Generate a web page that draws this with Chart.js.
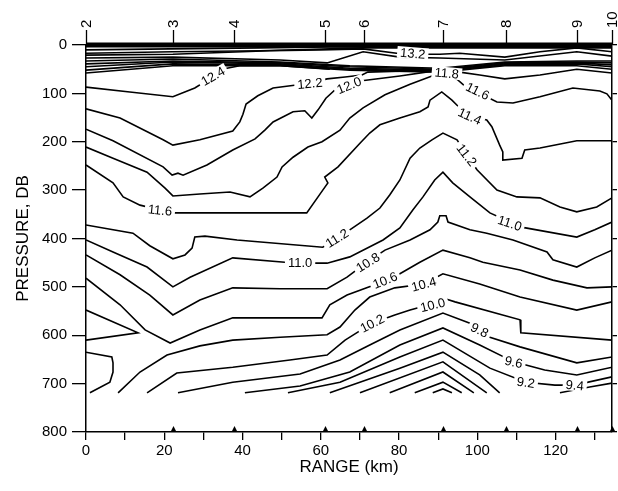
<!DOCTYPE html>
<html>
<head>
<meta charset="utf-8">
<script src="https://cdn.jsdelivr.net/npm/chart.js@4.4.1/dist/chart.umd.min.js"></script>
<style>
  html, body { margin: 0; padding: 0; background: #fff; }
  #wrap { width: 618px; height: 491px; }
</style>
</head>
<body>
<div id="wrap"><canvas id="section" width="618" height="491"></canvas></div>
<script>
// Stations along the section (top axis)
const stationNames = ['2', '3', '4', '5', '6', '7', '8', '9', '10'];
const stationRange = [0, 22.3, 37.9, 61.0, 71.0, 91.3, 107.4, 125.5, 134.4];

// Axis ticks
const rangeTicks = [0, 10, 20, 30, 40, 50, 60, 70, 80, 90, 100, 110, 120, 130];
const pressureTicks = [0, 100, 200, 300, 400, 500, 600, 700, 800];

// Isotherms as [range km, pressure dB] vertices
// near-surface layer
const surf1 = [[0, 10], [21.5, 8], [44.4, 6], [62.3, 4], [134.4, 4]];
const surf2 = [[0, 17], [22.2, 14], [44.4, 12], [62.3, 8], [70.8, 6], [134.4, 6]];
const t132 = [[0, 21], [22.2, 19], [47, 12], [59.8, 10], [70.8, 8], [81.3, 19], [90.4, 19], [95.5, 17], [107, 25], [116, 14], [125.4, 6], [134.4, 14]];
const surf4 = [[0, 27], [22.2, 25], [49.6, 31], [61.6, 37], [70.8, 14], [80.2, 25], [90.4, 27], [107, 31], [125.4, 14], [134.4, 23]];
const surf5 = [[0, 33], [22.2, 29], [49.6, 35], [67.4, 43], [90.4, 48], [107, 35], [125.4, 33], [134.4, 33]];
const surf6 = [[0, 39], [22.2, 33], [49.6, 37], [67.4, 45], [90.4, 50], [107, 37], [125.4, 35], [134.4, 37]];
const surf7 = [[0, 45], [22.2, 35], [49.6, 39], [67.4, 48], [90.4, 52], [107, 39], [125.4, 37], [134.4, 41]];
const surf8 = [[0, 52], [22.2, 39], [49.6, 41], [67.4, 50], [90.4, 54], [107, 41], [125.4, 39], [134.4, 45]];
const surf9 = [[0, 58], [22.2, 43], [49.6, 43], [67.4, 52], [90.4, 56], [107, 43], [125.4, 43], [134.4, 50]];

// thermocline and below
const t124 = [[0, 87], [11.2, 97], [22.2, 107], [27.8, 89], [32.4, 66], [36, 48], [39.3, 43], [49.6, 43], [62.3, 50]];
const t122 = [[0, 132], [8.7, 151], [19.7, 196], [22.2, 207], [29.1, 196], [37.5, 178], [39.3, 159], [40.1, 143], [40.9, 122], [43.9, 105], [47.8, 89], [57.2, 79], [61.6, 70], [66.2, 66], [70.5, 62], [72, 56], [80.2, 54], [90.4, 52]];
const t120 = [[0, 174], [6.9, 198], [19.7, 252], [22, 269], [23.5, 265], [24.8, 269], [30.9, 248], [37.5, 217], [43.2, 194], [45.7, 176], [47.8, 159], [52.9, 138], [55.9, 136], [57.7, 151], [59.3, 134], [61.3, 110], [63.6, 93], [67.2, 83], [70.5, 74], [80.2, 64], [88.6, 54], [95.5, 56], [100.6, 62], [107, 70], [116, 62], [125.4, 50], [134.4, 58]];
const t118 = [[0, 211], [6.9, 234], [15.6, 263], [20.2, 296], [22.2, 312], [29.1, 308], [36.8, 304], [41.9, 314], [45.2, 296], [48.8, 273], [50.1, 252], [52.9, 232], [56.7, 211], [60.3, 200], [64.9, 176], [67.4, 151], [70.8, 130], [76.4, 103], [82.8, 81], [88.4, 64], [92.2, 60], [95, 72], [96.8, 85], [99.9, 97], [105, 118], [109.1, 120], [116, 107], [124.4, 89], [131.3, 95], [133.1, 101], [134.4, 114]];
const t116 = [[0, 248], [6.9, 285], [9.5, 314], [13.8, 331], [18.9, 341], [22.2, 347], [56.4, 347], [60.5, 300], [61.8, 285], [61, 273], [64.4, 252], [70, 203], [72.5, 182], [75.1, 165], [80.2, 151], [85.3, 138], [87.4, 128], [87.9, 114], [90.9, 97], [93.5, 114], [95, 126], [98.1, 147], [102.4, 155], [103.7, 169], [105.7, 207], [106.5, 221], [106.5, 238], [111.4, 234], [112.1, 217], [116, 213], [125.4, 198], [134.4, 198]];
const t112 = [[0, 372], [12, 389], [16.3, 415], [22.2, 442], [25.3, 434], [27.1, 420], [27.8, 397], [30.4, 395], [38.6, 403], [60.5, 418], [64.1, 399], [67.4, 382], [71.8, 358], [75.1, 337], [77.6, 310], [80.2, 279], [82.8, 234], [85.3, 213], [88.4, 196], [91.2, 182], [94.8, 196], [97.3, 227], [99.9, 258], [105, 300], [110.1, 314], [116, 316], [121.1, 335], [125.4, 345], [130.5, 335], [134.4, 316]];
const t110 = [[0, 403], [6.9, 428], [15.6, 459], [22.2, 500], [26.6, 480], [37.5, 440], [50.8, 449], [54.7, 451], [61.6, 451], [67.4, 438], [75.9, 403], [80.2, 378], [83.5, 341], [86.1, 314], [89.1, 279], [91.2, 263], [93.7, 285], [98.1, 314], [103.2, 347], [108.3, 366], [110.9, 376], [125.4, 397], [130, 382], [134.4, 366]];
const t108 = [[0, 434], [8.7, 475], [16.3, 517], [22.2, 558], [29.1, 527], [37.5, 502], [49.6, 504], [61.6, 504], [66.7, 480], [71.8, 449], [76.4, 424], [82.8, 403], [87.9, 382], [89.9, 366], [90.4, 353], [92, 353], [92.5, 366], [98.1, 382], [102.4, 389], [109.1, 403], [117.8, 428], [119.3, 444], [125.4, 459], [130, 440], [134.4, 424]];
const t106 = [[0, 482], [8.7, 537], [15.1, 589], [21.5, 616], [29.1, 589], [37.5, 564], [60.3, 564], [62.3, 537], [66.7, 517], [76.4, 488], [80.2, 473], [85.3, 449], [91.2, 424], [98.1, 440], [101.4, 449], [110.9, 465], [119.3, 486], [128, 502], [134.4, 500]];
const t104 = [[8.2, 719], [13.8, 676], [20.7, 641], [29.1, 622], [37.5, 610], [49.6, 604], [61.6, 599], [64.9, 583], [68.7, 548], [72.5, 521], [78.9, 502], [86.3, 494], [91.2, 473], [100.6, 494], [110.9, 521], [125.4, 548], [134.4, 531]];
const t102 = [[15.6, 719], [23.2, 678], [37.5, 666], [52.1, 651], [61.6, 641], [66.2, 610], [73.1, 575], [78.9, 558], [82.8, 548], [88.6, 535], [91.2, 523], [94.3, 531], [110.9, 568], [111.1, 595], [134.4, 610]];
const t098 = [[23.5, 719], [37.5, 697], [54.7, 680], [64.9, 651], [72.5, 620], [80.2, 589], [91.2, 554], [98.1, 575], [100.6, 589], [103.2, 604], [110.9, 624], [125.4, 657], [134.4, 645]];
const t096 = [[40.6, 719], [54.7, 705], [67.4, 676], [80.2, 620], [91.2, 585], [100.6, 620], [109.3, 655], [117.2, 672], [125.4, 682], [134.4, 666]];
const t094 = [[51.6, 719], [64.9, 697], [80.2, 645], [91.2, 610], [103.2, 668], [112.4, 697], [119.8, 703], [124.9, 703], [134.4, 686]];
const t092 = [[62.3, 719], [80.2, 668], [91.2, 635], [100.6, 682], [105.7, 719]];
const t090 = [[70, 719], [91.2, 655], [102.4, 719]];
const t088 = [[77.6, 719], [91.2, 676], [99.1, 719]];
const t086 = [[84, 719], [91.2, 697], [96, 719]];
const t084 = [[88.6, 719], [91.2, 711], [93.5, 719]];
const t092east = [[121.1, 719], [128.7, 707], [134.4, 699]];
const tongueWest = [[0, 548], [13.3, 595], [0, 610]];
const poolWest = [[0, 635], [6.6, 645], [6.9, 657], [6.9, 676], [6.1, 697], [1, 719]];

// Contour labels (°C) and where they sit on the section
const labelLevel = [13.2, 12.4, 12.2, 12.0, 11.8, 11.6, 11.4, 11.2, 11.0, 11.6, 11.2, 11.0, 10.8, 10.6, 10.4, 10.2, 10.0, 9.8, 9.6, 9.2, 9.4];
const labelRange = [83.5, 32.4, 57.2, 67.2, 92.2, 100.1, 98.1, 97.3, 108.3, 18.9, 64.1, 54.7, 72, 76.4, 86.3, 73.1, 88.6, 100.6, 109.3, 112.4, 124.9];
const labelPressure = [17, 64, 79, 83, 58, 95, 147, 227, 368, 341, 399, 450, 449, 486, 494, 575, 537, 589, 655, 697, 703];
const labelAngle = [5, -30, -5, -22, 5, 26, 24, 52, 18, 6, -32, 0, -32, -22, -15, -27, -14, 27, 12, 8, 6];

const FONT = '"Liberation Sans", Arial, Helvetica, sans-serif';

const lines = [surf1, surf2, t132, surf4, surf5, surf6, surf7, surf8, surf9,
  t124, t122, t120, t118, t116, t112, t110, t108, t106, t104, t102,
  t098, t096, t094, t092, t090, t088, t086, t084, t092east, tongueWest, poolWest];

const datasets = lines.map(pts => ({
  data: pts.map(([r, p]) => ({ x: r, y: p })),
  showLine: true,
  borderColor: '#000',
  borderWidth: 1.6,
  pointRadius: 0,
  tension: 0,
  xAxisID: 'x',
  yAxisID: 'y'
}));

// sea surface
datasets.unshift({
  data: [{ x: 0, y: 0 }, { x: 134.4, y: 0 }],
  showLine: true,
  borderColor: '#000',
  borderWidth: 5,
  pointRadius: 0,
  clip: false,
  xAxisID: 'x',
  yAxisID: 'y'
});

const contourLabels = {
  id: 'contourLabels',
  afterDatasetsDraw(chart) {
    const { ctx, scales: { x, y } } = chart;
    ctx.save();
    ctx.font = '13px ' + FONT;
    ctx.textAlign = 'center';
    ctx.textBaseline = 'middle';
    labelLevel.forEach((lv, i) => {
      const px = x.getPixelForValue(labelRange[i]);
      const py = y.getPixelForValue(labelPressure[i]);
      const txt = lv.toFixed(1);
      const w = ctx.measureText(txt).width;
      ctx.save();
      ctx.translate(px, py);
      ctx.rotate(labelAngle[i] * Math.PI / 180);
      ctx.fillStyle = '#fff';
      ctx.fillRect(-w / 2 - 3, -6, w + 6, 12);
      ctx.fillStyle = '#000';
      ctx.fillText(txt, 0, 1);
      ctx.restore();
    });
    ctx.restore();
  }
};

// Station ticks and numbers above the section, small markers on the range axis
const stationAxis = {
  id: 'stationAxis',
  afterDraw(chart) {
    const { ctx, chartArea, scales: { x } } = chart;
    ctx.save();
    ctx.strokeStyle = '#000';
    ctx.fillStyle = '#000';
    ctx.lineWidth = 1.3;
    ctx.font = '15px ' + FONT;
    ctx.textAlign = 'left';
    ctx.textBaseline = 'middle';
    stationRange.forEach((r, i) => {
      const px = Math.round(x.getPixelForValue(r)) + 0.5;
      ctx.beginPath();
      ctx.moveTo(px, chartArea.top);
      ctx.lineTo(px, chartArea.top - 15);
      ctx.stroke();
      ctx.save();
      ctx.translate(px, chartArea.top - 17);
      ctx.rotate(-Math.PI / 2);
      ctx.fillText(stationNames[i], 0, 0.5);
      ctx.restore();
      if (i > 0) {
        ctx.beginPath();
        ctx.moveTo(px - 3, chartArea.bottom);
        ctx.lineTo(px, chartArea.bottom - 6);
        ctx.lineTo(px + 3, chartArea.bottom);
        ctx.closePath();
        ctx.fill();
      }
    });
    ctx.restore();
  }
};

const axisCommon = {
  grid: { drawOnChartArea: false, color: '#000', lineWidth: 1.3 },
  border: { display: true, color: '#000', width: 1.5 }
};

new Chart(document.getElementById('section'), {
  type: 'scatter',
  data: { datasets },
  plugins: [contourLabels, stationAxis],
  options: {
    responsive: false,
    animation: false,
    devicePixelRatio: 1,
    layout: { padding: 0 },
    plugins: { legend: { display: false }, tooltip: { enabled: false } },
    scales: {
      x: {
        type: 'linear', position: 'bottom', min: 0, max: 134.4,
        afterBuildTicks: s => { s.ticks = rangeTicks.map(v => ({ value: v })); },
        afterFit: s => { s.height = 59; },
        ticks: {
          color: '#000', font: { family: FONT, size: 15 }, padding: 2,
          maxRotation: 0, autoSkip: false,
          callback: v => (v % 20 === 0 ? String(v) : '')
        },
        grid: { ...axisCommon.grid, tickLength: 8 },
        border: axisCommon.border,
        title: { display: true, text: 'RANGE (km)', color: '#000', font: { family: FONT, size: 17 }, padding: { top: 0, bottom: 13 } }
      },
      xTop: {
        type: 'linear', position: 'top', min: 0, max: 134.4,
        afterFit: s => { s.height = 45; },
        ticks: { display: false },
        grid: { display: false },
        border: { display: false }
      },
      y: {
        type: 'linear', position: 'left', reverse: true, min: 0, max: 800,
        afterBuildTicks: s => { s.ticks = pressureTicks.map(v => ({ value: v })); },
        afterFit: s => { s.width = 86; },
        ticks: { color: '#000', font: { family: FONT, size: 15 }, padding: 5, autoSkip: false },
        grid: { ...axisCommon.grid, tickLength: 14 },
        border: axisCommon.border,
        title: { display: true, text: 'PRESSURE, DB', color: '#000', font: { family: FONT, size: 17 }, padding: { top: 13, bottom: 0 } }
      },
      yRight: {
        type: 'linear', position: 'right', reverse: true, min: 0, max: 800,
        afterBuildTicks: s => { s.ticks = pressureTicks.map(v => ({ value: v })); },
        afterFit: s => { s.width = 6; },
        ticks: { display: false },
        grid: { ...axisCommon.grid, tickLength: 5 },
        border: axisCommon.border
      }
    }
  }
});
</script>
</body>
</html>
